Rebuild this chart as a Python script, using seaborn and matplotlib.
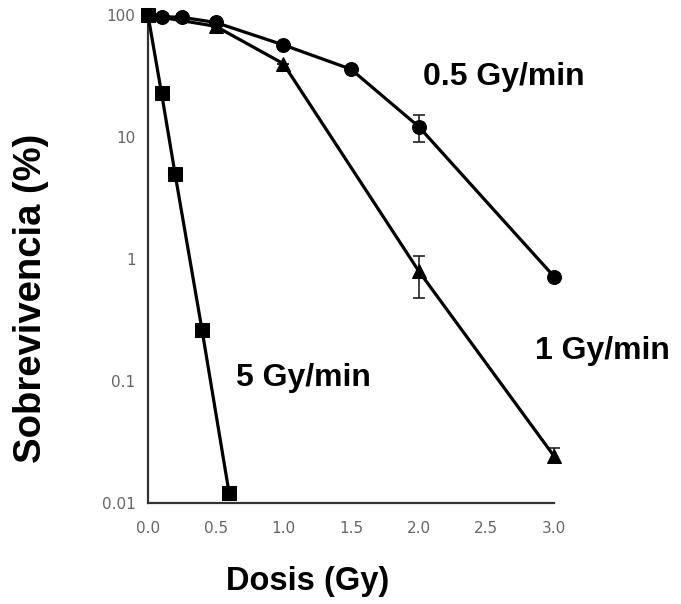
import matplotlib
matplotlib.use("Agg")
import matplotlib.pyplot as plt
import seaborn as sns
import pandas as pd
import numpy as np
from matplotlib.ticker import FixedLocator, FixedFormatter, NullLocator

# ---- data ----
dose_05 = [0.0, 0.1, 0.25, 0.5, 1.0, 1.5, 2.0, 3.0]
surv_05 = [100, 97, 96, 87, 57, 36, 12.2, 0.72]
err_05 = [0, 0, 0, 0, 0, 0, 3.0, 0]

dose_1 = [0.0, 0.5, 1.0, 2.0, 3.0]
surv_1 = [100, 81, 40, 0.80, 0.0243]
err_lo_1 = [0, 0, 0, 0.32, 0.003]
err_hi_1 = [0, 0, 0, 0.27, 0.004]

dose_5 = [0.0, 0.1, 0.2, 0.4, 0.6]
surv_5 = [100, 23, 5.0, 0.26, 0.012]

series_names = ["0.5 Gy/min", "1 Gy/min", "5 Gy/min"]
y_ticks = [0.01, 0.1, 1, 10, 100]
y_ticklabels = ["0.01", "0.1", "1", "10", "100"]
x_ticks = [0.0, 0.5, 1.0, 1.5, 2.0, 2.5, 3.0]
x_ticklabels = ["0.0", "0.5", "1.0", "1.5", "2.0", "2.5", "3.0"]

df = pd.concat([
    pd.DataFrame({"dose": dose_05, "surv": surv_05, "series": series_names[0]}),
    pd.DataFrame({"dose": dose_1, "surv": surv_1, "series": series_names[1]}),
    pd.DataFrame({"dose": dose_5, "surv": surv_5, "series": series_names[2]}),
], ignore_index=True)

sns.set_theme(style="white")
plt.rcParams["font.family"] = ["Liberation Sans", "DejaVu Sans"]

fig = plt.figure(figsize=(6.81, 6.04), dpi=100)
ax = fig.add_axes([0.2173, 0.167, 0.5962, 0.808])

sns.lineplot(data=df, x="dose", y="surv", hue="series", style="series",
             markers={series_names[0]: "o", series_names[1]: "^", series_names[2]: "s"},
             dashes=False, palette={n: "black" for n in series_names},
             markersize=10, linewidth=2.3, markeredgecolor="black",
             legend=False, ax=ax, clip_on=False, zorder=3)

ax.errorbar(dose_05, surv_05, yerr=err_05, fmt="none", ecolor="#222222",
            elinewidth=1.2, capsize=4, capthick=1.2, zorder=2, clip_on=False)
ax.errorbar(dose_1, surv_1, yerr=[err_lo_1, err_hi_1], fmt="none", ecolor="#222222",
            elinewidth=1.2, capsize=4, capthick=1.2, zorder=2, clip_on=False)

ax.set_yscale("log")
ax.set_ylim(0.01, 100)
ax.set_xlim(0, 3.0)
ax.yaxis.set_major_locator(FixedLocator(y_ticks))
ax.yaxis.set_major_formatter(FixedFormatter(y_ticklabels))
ax.yaxis.set_minor_locator(NullLocator())
ax.xaxis.set_major_locator(FixedLocator(x_ticks))
ax.xaxis.set_major_formatter(FixedFormatter(x_ticklabels))

for s in ["top", "right"]:
    ax.spines[s].set_visible(False)
for s in ["left", "bottom"]:
    ax.spines[s].set_color("#333333")
    ax.spines[s].set_linewidth(1.6)

ax.tick_params(axis="both", which="major", direction="out", length=4, width=1.4,
               color="#333333", labelcolor="#666666", labelsize=11)
ax.tick_params(axis="x", pad=9)
ax.tick_params(axis="y", pad=5)
for lab in ax.get_xticklabels() + ax.get_yticklabels():
    lab.set_family("DejaVu Sans")

ax.set_xlabel("Dosis (Gy)", fontsize=23.5, fontweight="bold", color="black")
ax.xaxis.set_label_coords(0.394, -0.128)
ax.set_ylabel("Sobrevivencia (%)", fontsize=27.5, fontweight="bold", color="black")
ax.yaxis.set_label_coords(-0.243, 0.42)

ax.text(2.03, 31, "0.5 Gy/min", fontsize=23, fontweight="bold", color="black",
        ha="left", va="center")
ax.text(2.86, 0.175, "1 Gy/min", fontsize=23, fontweight="bold", color="black",
        ha="left", va="center")
ax.text(0.65, 0.106, "5 Gy/min", fontsize=23, fontweight="bold", color="black",
        ha="left", va="center")

fig.savefig("out.png", dpi=100)
